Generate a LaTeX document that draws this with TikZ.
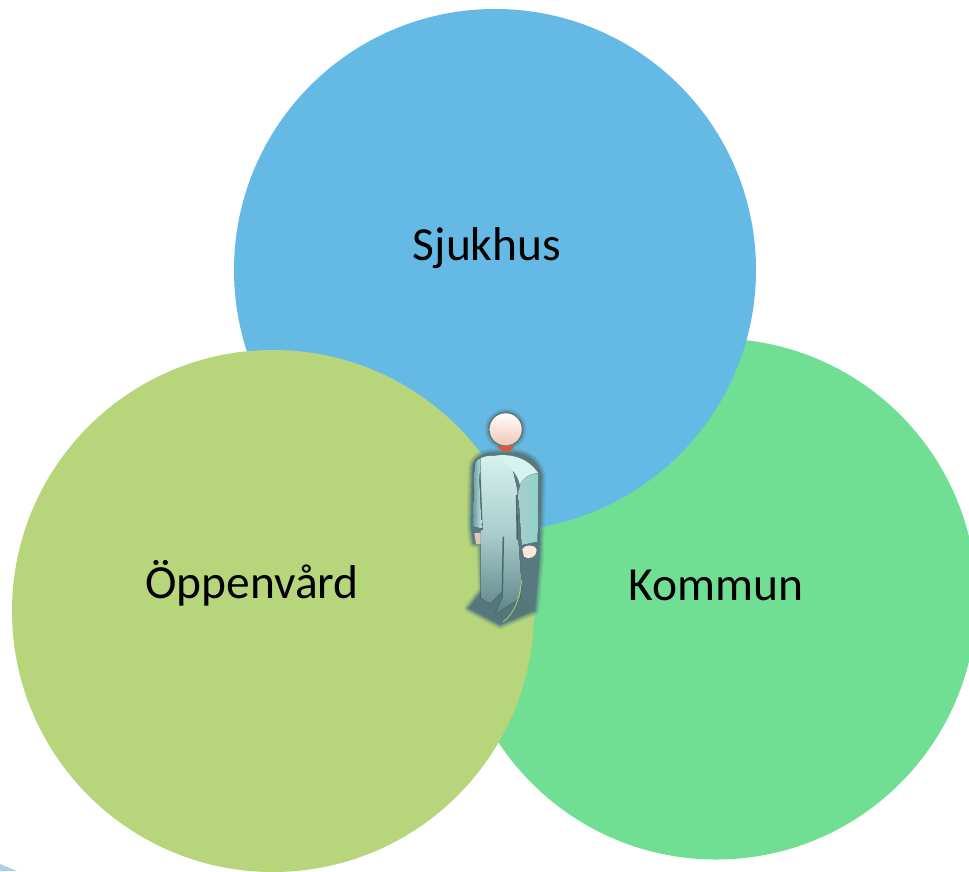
\documentclass[tikz,border=0pt]{standalone}
\usepackage{fontspec}
\setmainfont{Carlito}
\definecolor{bluec}{HTML}{65B9E5}
\definecolor{greenc}{HTML}{71DF93}
\definecolor{olivec}{HTML}{B7D67C}
\definecolor{halo}{HTML}{587A7E}
\definecolor{corner}{HTML}{A9CFE6}
\definecolor{bodytop}{HTML}{D6F3EF}
\definecolor{bodymid}{HTML}{A9CDCB}
\definecolor{bodylow}{HTML}{5F8487}
\definecolor{armc}{HTML}{8FD2C9}
\definecolor{armside}{HTML}{6E9FA0}
\definecolor{skin}{HTML}{F6D9CC}
\definecolor{neckc}{HTML}{D9573A}
\tikzset{
  venn/.style={circle,minimum size=#1,inner sep=0pt,draw=none},
  lab/.style={font=\fontsize{47.5}{56}\selectfont,text=black,inner sep=0pt},
  haloline/.style={draw=halo,line join=round,line cap=round},
}
\begin{document}
\begin{tikzpicture}[x=1pt,y=-1pt]
\useasboundingbox (0,0) rectangle (969,871);
\fill[white] (0,0) rectangle (969,871);
\begin{scope}
\clip (0,0) rectangle (969,871);
\node[venn=521pt,fill=greenc] (kommun) at (716,599) {};
\node[venn=522pt,fill=bluec] (sjukhus) at (495,270) {};
\node[venn=522pt,fill=olivec] (oppen) at (273,611) {};
\fill[corner] (0,864) -- (17,871) -- (0,871) -- cycle;
\end{scope}
\node[lab] at (487,248) {Sjukhus};
\node[lab] at (252,583) {Öppenvård};
\node[lab] at (716,585) {Kommun};
% person, in zoom-crop coordinates
\begin{scope}[shift={(440,390)},x=0.3333pt,y=-0.3333pt]
\def\sil{(172,188) .. controls (140,188) and (100,195) .. (97,235) -- (93,410) -- (100,460) -- (122,462) -- (127,600) -- (85,655) -- (180,705) -- (285,662) -- (298,510) -- (305,260) .. controls (300,215) and (260,190) .. (225,188) -- cycle}
\foreach \w/\o in {9/0.12,7/0.16,5/0.22,3/0.3,1.5/0.4}{
  \draw[haloline,opacity=\o,line width=\w pt] \sil;
  \draw[haloline,opacity=\o,line width=\w pt] (197,118) circle[radius=50];
}
\fill[halo] \sil;
\fill[halo] (197,118) circle[radius=52];
% feet
\fill[bodylow!90!black] (127,610) -- (88,655) -- (150,682) -- (180,700) -- (270,660) -- (240,610) -- cycle;
% torso and legs
\fill[top color=bodytop,bottom color=bodylow,middle color=bodymid]
 (120,205) .. controls (150,190) and (190,195) .. (215,225) -- (232,300) -- (235,450) -- (245,590) -- (240,625) -- (165,672) -- (187,625) -- (187,605) -- (150,640) -- (122,625) -- (122,260) -- cycle;
% creases
\draw[draw=bodylow!80!black,line width=1.5pt] (190,440) -- (187,610);
\draw[draw=bodylow!80!black,line width=1.6pt] (120,270) -- (126,420);
\draw[draw=bodylow!80!black,line width=1.6pt] (230,315) -- (232,450);
% left arm
\fill[left color=armside,right color=bodytop!80!armside] (103,230) .. controls (105,212) and (112,208) .. (122,205) -- (118,270) -- (125,415) -- (100,410) -- cycle;
% right arm
\fill[bodytop] (165,197) .. controls (215,190) and (265,205) .. (295,250) -- (240,285) .. controls (232,250) and (205,220) .. (165,197) -- cycle;
\fill[left color=bodymid,right color=armc] (240,285) .. controls (250,262) and (275,250) .. (295,250) -- (293,455) -- (245,465) -- (235,310) -- cycle;
% hands
\fill[skin!60!white] (247,478) .. controls (250,465) and (285,460) .. (290,480) .. controls (292,500) and (265,512) .. (252,500) -- cycle;
\fill[skin!80!gray] (103,430) -- (122,428) -- (122,462) -- (108,462) -- cycle;
% yellowish highlight
\draw[draw=olivec,line width=.7pt] (245,570) .. controls (240,620) and (225,670) .. (190,695);
% neck
\fill[neckc] (172,168) -- (222,168) .. controls (218,190) and (180,190) .. (172,168) -- cycle;
% head
\shade[top color=white,middle color=white,bottom color=skin!85!neckc] (197,118) circle[radius=48];
\end{scope}
\end{tikzpicture}
\end{document}
